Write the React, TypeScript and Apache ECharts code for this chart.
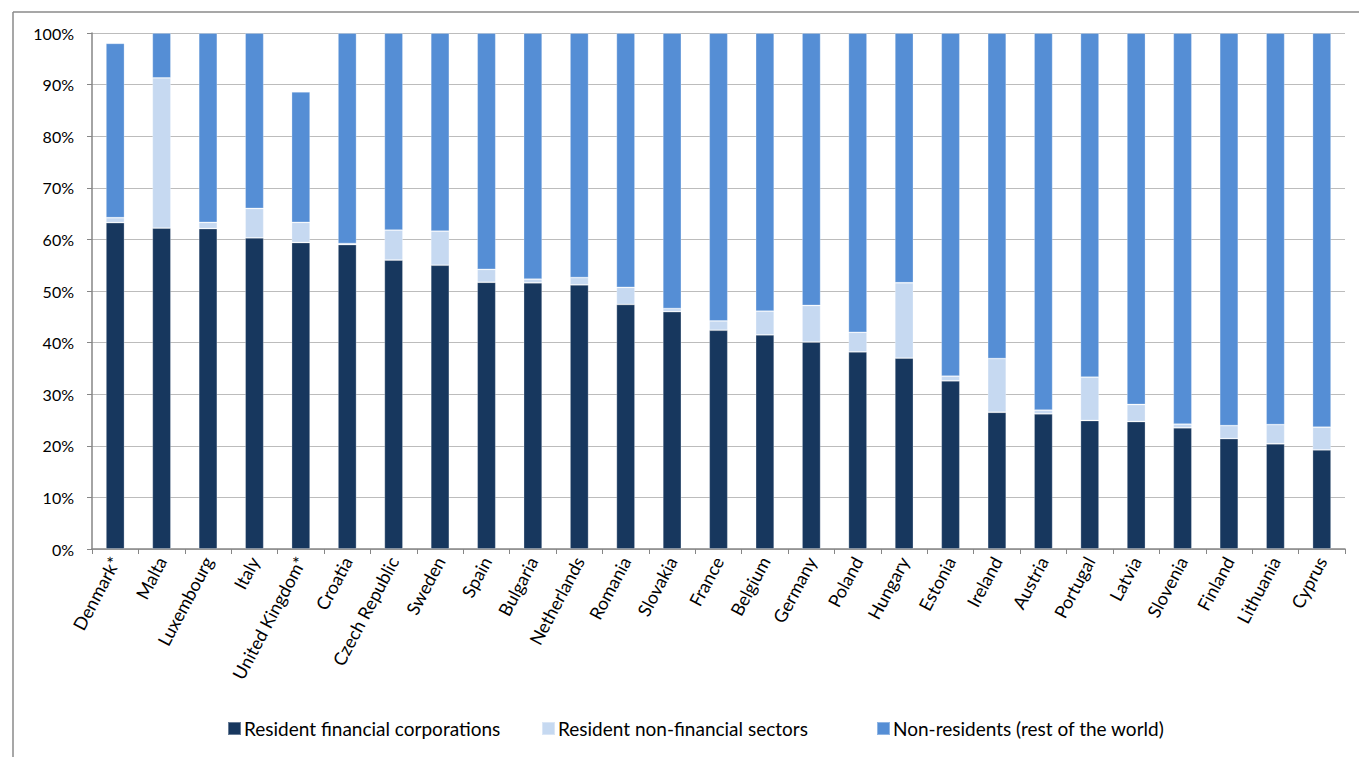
import React, { useEffect, useRef } from "react";
import * as echarts from "echarts";

const categories = [
  "Denmark*", "Malta", "Luxembourg", "Italy", "United Kingdom*", "Croatia",
  "Czech Republic", "Sweden", "Spain", "Bulgaria", "Netherlands", "Romania",
  "Slovakia", "France", "Belgium", "Germany", "Poland", "Hungary", "Estonia",
  "Ireland", "Austria", "Portugal", "Latvia", "Slovenia", "Finland",
  "Lithuania", "Cyprus",
];

const residentFinancial = [
  63.25, 62.2, 62.1, 60.3, 59.4, 59.0, 56.0, 55.0, 51.7, 51.6, 51.2, 47.4,
  46.0, 42.4, 41.5, 40.1, 38.2, 37.0, 32.6, 26.5, 26.2, 24.9, 24.7, 23.5,
  21.4, 20.4, 19.2,
];

const residentNonFinancial = [
  0.95, 29.1, 1.2, 5.7, 3.9, 0.2, 5.8, 6.6, 2.5, 0.7, 1.4, 3.3, 0.6, 1.8,
  4.6, 7.1, 3.8, 14.6, 0.9, 10.4, 0.7, 8.4, 3.3, 0.7, 2.5, 3.7, 4.4,
];

const nonResidents = [
  33.8, 8.7, 36.7, 34.0, 25.3, 40.8, 38.2, 38.4, 45.8, 47.7, 47.4, 49.3,
  53.4, 55.8, 53.9, 52.8, 58.0, 48.4, 66.5, 63.1, 73.1, 66.7, 72.0, 75.8,
  76.1, 75.9, 76.4,
];

const seriesNames = [
  "Resident financial corporations",
  "Resident non-financial sectors",
  "Non-residents (rest of the world)",
];

const colors = ["#17375E", "#C6D9F1", "#558ED5"];

const FONT = "Lato, 'Open Sans', sans-serif";

export default function App() {
  const ref = useRef<HTMLDivElement>(null);

  useEffect(() => {
    document.body.style.margin = "0";
    if (!ref.current) return;
    const chart = echarts.init(ref.current, null, { renderer: "svg" });
    const data = [residentFinancial, residentNonFinancial, nonResidents];
    const legendLefts = [222, 536, 871];
    chart.setOption({
      animation: false,
      backgroundColor: "#ffffff",
      textStyle: { fontFamily: FONT },
      graphic: [
        {
          type: "line",
          shape: { x1: 13, y1: 12, x2: 1359, y2: 12 },
          style: { stroke: "#8a8a8a", lineWidth: 1.5 },
        },
        {
          type: "line",
          shape: { x1: 13, y1: 12, x2: 13, y2: 757 },
          style: { stroke: "#8a8a8a", lineWidth: 1.5 },
        },
      ],
      legend: seriesNames.map((name, i) => ({
        data: [name],
        left: legendLefts[i],
        top: 714,
        itemWidth: 13,
        itemHeight: 13,
        itemGap: 0,
        icon: "rect",
        textStyle: { fontFamily: FONT, fontSize: 19, color: "#000", padding: [0, 0, 0, -2] },
      })),
      grid: { left: 92, right: 14, top: 33, bottom: 208, containLabel: false },
      xAxis: {
        type: "category",
        data: categories,
        axisLine: { lineStyle: { color: "#868686", width: 1.5 } },
        axisTick: { show: true, length: 5, lineStyle: { color: "#868686" } },
        axisLabel: {
          interval: 0,
          rotate: 62,
          margin: 9,
          fontFamily: FONT,
          fontSize: 18,
          color: "#000",
        },
      },
      yAxis: {
        type: "value",
        min: 0,
        max: 100,
        interval: 10,
        axisLine: { show: true, lineStyle: { color: "#868686", width: 1.5 } },
        axisTick: { show: true, length: 5, lineStyle: { color: "#868686" } },
        axisLabel: {
          formatter: "{value}%",
          margin: 18,
          fontFamily: FONT,
          fontSize: 16,
          color: "#000",
        },
        splitLine: { lineStyle: { color: "#bcbcbc", width: 1.2 } },
      },
      series: seriesNames.map((name, i) => ({
        name,
        type: "bar",
        stack: "total",
        barWidth: "40%",
        data: data[i],
        itemStyle: {
          color: colors[i],
          borderColor: "rgba(255,255,255,0.35)",
          borderWidth: 0.8,
        },
      })),
    });
    return () => chart.dispose();
  }, []);

  return <div ref={ref} style={{ width: 1359, height: 757 }} />;
}
